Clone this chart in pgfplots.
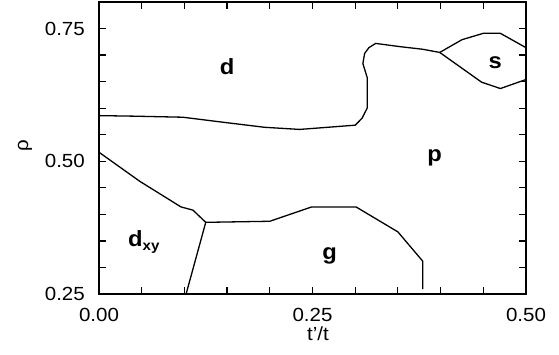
\documentclass[border=0pt]{standalone}
\usepackage{pgfplots}
\pgfplotsset{compat=1.18}
\usepackage{fontspec}
\setmainfont{Liberation Sans}[FakeStretch=1.08]
\begin{document}
\begin{tikzpicture}
\useasboundingbox (-99pt,-60pt) rectangle (460pt,294pt);
\begin{axis}[
  at={(0,0)}, anchor=south west,
  scale only axis, width=427pt, height=292pt,
  xmin=0, xmax=0.5, ymin=0.25, ymax=0.8,
  xtick={0,0.25,0.5}, ytick={0.25,0.5,0.75},
  xticklabels={0.00,0.25,0.50}, yticklabels={0.25,0.50,0.75},
  minor xtick={0.05,0.1,0.15,0.2,0.3,0.35,0.4,0.45},
  minor ytick={0.3,0.35,0.4,0.45,0.55,0.6,0.65,0.7},
  tick align=inside, tick pos=both,
  major tick length=7pt, minor tick length=7pt,
  every tick/.style={black, line width=1.2pt},
  axis line style={line width=1.8pt},
  /pgf/number format/assume math mode=true,
  tick label style={font=\fontsize{19}{22}\selectfont},
  xticklabel style={inner sep=0pt, anchor=north, yshift=-14pt},
  yticklabel style={inner sep=0pt, anchor=east, xshift=-14pt},
  label style={font=\fontsize{19}{22}\selectfont},
  xlabel={t’/t},
  xlabel style={at={(axis description cs:0.513,0)}, anchor=north, inner sep=0pt, yshift=-33pt},
  ylabel={ρ},
  ylabel style={at={(axis description cs:0,0.507)}, anchor=center, inner sep=0pt, yshift=74pt},
  clip=false,
]
% d / p boundary
\addplot[black, line width=1.3pt] coordinates {
(0,0.586) (0.040,0.585) (0.098,0.583) (0.148,0.573) (0.194,0.564)
(0.235,0.560) (0.300,0.568) (0.308,0.581) (0.314,0.600) (0.314,0.658)
(0.309,0.684) (0.311,0.703) (0.316,0.714) (0.324,0.722) (0.352,0.716)
(0.379,0.711) (0.399,0.705)
};
% s region upper
\addplot[black, line width=1.3pt] coordinates {
(0.399,0.705) (0.425,0.729) (0.450,0.741) (0.470,0.741) (0.5,0.714)
};
% s region lower
\addplot[black, line width=1.3pt] coordinates {
(0.399,0.705) (0.448,0.649) (0.470,0.637) (0.5,0.654)
};
% dxy upper boundary
\addplot[black, line width=1.3pt] coordinates {
(0,0.517) (0.048,0.462) (0.096,0.414) (0.110,0.408) (0.125,0.385)
};
% g boundary
\addplot[black, line width=1.3pt] coordinates {
(0.125,0.385) (0.200,0.387) (0.249,0.414) (0.301,0.414) (0.350,0.367)
(0.379,0.312) (0.379,0.259)
};
% dxy / g boundary
\addplot[black, line width=1.3pt] coordinates {
(0.125,0.385) (0.102,0.25)
};
\node[font=\bfseries\fontsize{22}{24}\selectfont] at (axis cs:0.150,0.679) {d};
\node[font=\bfseries\fontsize{22}{24}\selectfont] at (axis cs:0.393,0.506) {p};
\node[font=\bfseries\fontsize{22}{24}\selectfont] at (axis cs:0.464,0.686) {s};
\node[font=\bfseries\fontsize{22}{24}\selectfont] at (axis cs:0.270,0.321) {g};
\node[font=\bfseries\fontsize{22}{24}\selectfont, anchor=base west, inner sep=0pt] at (axis cs:0.034,0.340) {d\raisebox{-4pt}{\fontsize{14}{15}\selectfont xy}};
\end{axis}
\end{tikzpicture}
\end{document}
